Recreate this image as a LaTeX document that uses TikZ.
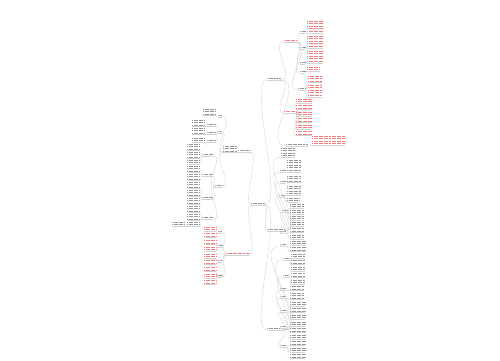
\documentclass[tikz,border=0pt]{standalone}
\usetikzlibrary{calc}
\definecolor{txtgray}{RGB}{150,150,150}
\definecolor{txtred}{RGB}{236,128,128}
\definecolor{linegray}{RGB}{210,210,210}
\tikzset{
  gtxt/.style={txtgray, line width=0.85pt, dash pattern=on 1.3pt off 0.35pt},
  rtxt/.style={txtred, line width=0.85pt, dash pattern=on 1.3pt off 0.35pt},
  uline/.style={linegray, line width=0.3pt},
  conn/.style={linegray, line width=0.35pt},
}
% one-line label with underline: name, x1, x2, y, style
\newcommand{\lbl}[5]{%
  \draw[#5] (#2,#4-1.4) -- (#3,#4-1.4);
  \draw[uline] (#2,#4) -- (#3,#4);
  \coordinate (#1-w) at (#2,#4);
  \coordinate (#1-e) at (#3,#4);}
% text block: name, x1, x2, top, lines, style
\newcommand{\blk}[6]{%
  \foreach \k in {1,...,#5}
    {\draw[#6] (#2,{#4+(\k-1)*2.6}) -- (#3,{#4+(\k-1)*2.6});}
  \draw[uline] (#2,{#4+#5*2.6-1.2}) -- (#3,{#4+#5*2.6-1.2});
  \coordinate (#1-w) at (#2,{#4+#5*2.6-1.2});
  \coordinate (#1-e) at (#3,{#4+#5*2.6-1.2});}
\newcommand{\rc}[2]{\draw[conn] (#1-e) to[out=0,in=180] (#2-w);}
\newcommand{\lc}[2]{\draw[conn] (#1-w) to[out=180,in=0] (#2-e);}
\begin{document}
\begin{tikzpicture}[x=1pt,y=-1pt]
\useasboundingbox (0,0) rectangle (500,360);
% root and main branches
\lbl{root}{251}{265}{205}{gtxt}
\lbl{b1}{267}{281}{80}{gtxt}
\lbl{b2}{267}{284}{231}{gtxt}
\lbl{b3}{267}{284}{330}{gtxt}
\lbl{la}{238}{251}{152}{gtxt}
\lbl{lb}{226}{250}{255}{rtxt}
\foreach \c in {b1,b2,b3}
  {\draw[conn] (root-e) to[out=0,in=180,looseness=0.4] (\c-w);}
\foreach \c in {la,lb}
  {\draw[conn] (root-w) to[out=180,in=0,looseness=0.4] (\c-e);}

% branch 1
\lbl{c1a}{284}{297}{42}{rtxt}
\lbl{c1b}{284}{297}{113}{rtxt}
\lbl{c1c}{286}{308}{146}{gtxt}
\foreach \c in {c1a,c1b,c1c} {\rc{b1}{\c}}
\lbl{g1}{300}{305}{33}{gtxt}  \blk{l1}{307}{323}{21}{5}{rtxt}
\lbl{g2}{300}{305}{49}{gtxt}  \blk{l2}{307}{323}{36}{5}{rtxt}
\lbl{g3}{300}{305}{64}{gtxt}  \blk{l3}{307}{323}{51}{5}{rtxt}
\lbl{g4}{300}{305}{73}{gtxt}  \blk{l4}{307}{320}{67}{2}{rtxt}
\lbl{g5}{298}{305}{90}{gtxt}  \blk{l5}{308}{322}{76}{3}{rtxt}
\blk{l6}{308}{322}{85}{5}{rtxt}
\foreach \i in {1,...,5} {\rc{c1a}{g\i} \rc{g\i}{l\i}}
\rc{g5}{l6}
\foreach \t [count=\i] in {99,105.5,112,118.5,125,131.5}
  {\blk{m\i}{296}{312}{\t}{2}{rtxt} \rc{c1b}{m\i}}
\blk{n1}{312}{345}{136}{4}{rtxt}
\rc{c1c}{n1}

% branch 2
\blk{d0}{281}{295}{148}{4}{gtxt}
\lbl{d1}{280}{285}{172}{gtxt}  \blk{d1a}{287}{301}{160}{5}{gtxt}
\lbl{d2}{280}{285}{183}{gtxt}  \blk{d2a}{287}{301}{176}{3}{gtxt}
\lbl{d3}{279}{285}{197}{gtxt}  \blk{d3a}{287}{301}{186}{4}{gtxt}
\blk{d3b}{287}{299}{198}{2}{gtxt}
\lbl{d4}{282}{288}{212}{gtxt}
\lbl{d5}{280}{286}{233}{gtxt}
\foreach \c in {d0,d1,d2,d3,d4,d5} {\rc{b2}{\c}}
\rc{d1}{d1a} \rc{d2}{d2a} \rc{d3}{d3a} \rc{d3}{d3b}
\foreach \t [count=\i] in {204,210,216}
  {\blk{d4\i}{290}{304}{\t}{2}{gtxt} \rc{d4}{d4\i}}
\foreach \t [count=\i] in {222,228.5,235}
  {\blk{d5\i}{290}{304}{\t}{2}{gtxt} \rc{d5}{d5\i}}

% branch 3
\lbl{k1}{280}{286}{246}{gtxt}
\lbl{k2}{283}{289}{260}{gtxt}
\lbl{k3}{283}{289}{277}{gtxt}
\lbl{k4}{280}{286}{290}{gtxt}
\lbl{k5}{280}{286}{298}{gtxt}
\lbl{k6}{280}{286}{312}{gtxt}
\lbl{k7}{280}{286}{328}{gtxt}
\lbl{k8}{280}{286}{347}{gtxt}
\foreach \c in {k1,k2,k3,k4,k5,k6,k7,k8} {\rc{b3}{\c}}
\foreach \t [count=\i] in {241,247.5} {\blk{ka\i}{290}{305}{\t}{2}{gtxt} \rc{k1}{ka\i}}
\foreach \t [count=\i] in {254,260.5,267} {\blk{kb\i}{291}{305}{\t}{2}{gtxt} \rc{k2}{kb\i}}
\foreach \t [count=\i] in {273.5,280} {\blk{kc\i}{291}{305}{\t}{2}{gtxt} \rc{k3}{kc\i}}
\blk{kd1}{290}{304}{286.5}{2}{gtxt} \rc{k4}{kd1}
\blk{ke1}{290}{304}{293}{3}{gtxt} \rc{k5}{ke1}
\foreach \t [count=\i] in {302,308.5,315} {\blk{kf\i}{290}{305}{\t}{2}{gtxt} \rc{k6}{kf\i}}
\foreach \t [count=\i] in {322,328.5,335} {\blk{kg\i}{290}{305}{\t}{2}{gtxt} \rc{k7}{kg\i}}
\foreach \t [count=\i] in {341.5,348,354.5} {\blk{kh\i}{290}{305}{\t}{2}{gtxt} \rc{k8}{kh\i}}

% left branch A
\blk{la1}{223}{237}{146}{3}{gtxt}
\lc{la}{la1}
\lbl{e1}{218}{222}{117}{gtxt}
\lbl{e2}{218}{222}{133}{gtxt}
\lbl{e3}{215}{222}{187}{gtxt}
\foreach \c in {e1,e2,e3} {\lc{la1}{\c}}
\blk{e1a}{203}{216}{109}{3}{gtxt} \lc{e1}{e1a}
\lbl{f1}{207}{216}{126}{gtxt}
\lbl{f2}{207}{216}{134}{gtxt}
\lbl{f3}{207}{216}{142}{gtxt}
\foreach \c in {f1,f2,f3} {\lc{e2}{\c}}
\blk{f1a}{192}{205}{120}{3}{gtxt} \lc{f1}{f1a}
\blk{f2a}{192}{205}{128}{3}{gtxt} \lc{f2}{f2a}
\blk{f3a}{192}{205}{138}{2}{gtxt} \lc{f3}{f3a}
\lbl{f4}{202}{213}{156}{gtxt}
\lbl{f5}{202}{213}{176}{gtxt}
\lbl{f6}{202}{213}{199}{gtxt}
\lbl{f7}{202}{213}{219}{gtxt}
\foreach \c in {f4,f5,f6,f7} {\lc{e3}{\c}}
\blk{f4a}{187}{200}{144}{3}{gtxt} \lc{f4}{f4a}
\blk{f4b}{187}{200}{152}{3}{gtxt} \lc{f4}{f4b}
\blk{f4c}{187}{200}{160}{2}{gtxt} \lc{f4}{f4c}
\blk{f5a}{187}{200}{166}{3}{gtxt} \lc{f5}{f5a}
\blk{f5b}{187}{200}{174}{3}{gtxt} \lc{f5}{f5b}
\blk{f6a}{187}{200}{182}{3}{gtxt} \lc{f6}{f6a}
\blk{f6b}{187}{200}{190}{3}{gtxt} \lc{f6}{f6b}
\blk{f6c}{187}{200}{198}{3}{gtxt} \lc{f6}{f6c}
\blk{f7a}{187}{200}{206}{3}{gtxt} \lc{f7}{f7a}
\blk{f7b}{187}{200}{214}{3}{gtxt} \lc{f7}{f7b}
\blk{f7c}{187}{200}{222}{2}{gtxt} \lc{f7}{f7c}
\blk{f7d}{172}{184}{222}{2}{gtxt} \lc{f7c}{f7d}

% left branch B
\lbl{h1}{218}{222}{233}{gtxt}
\lbl{h2}{217}{222}{247}{gtxt}
\lbl{h3}{218}{222}{262}{gtxt}
\lbl{h4}{217}{222}{277}{gtxt}
\foreach \c in {h1,h2,h3,h4} {\lc{lb}{\c}}
\foreach \t [count=\i] in {227,233.5} {\blk{ha\i}{204}{216}{\t}{2}{rtxt} \lc{h1}{ha\i}}
\foreach \t [count=\i] in {240.5,247} {\blk{hb\i}{204}{216}{\t}{2}{rtxt} \lc{h2}{hb\i}}
\foreach \t [count=\i] in {254,260.5} {\blk{hc\i}{204}{216}{\t}{2}{rtxt} \lc{h3}{hc\i}}
\foreach \t [count=\i] in {267.5,274,280.5} {\blk{hd\i}{204}{216}{\t}{2}{rtxt} \lc{h4}{hd\i}}
\end{tikzpicture}
\end{document}
